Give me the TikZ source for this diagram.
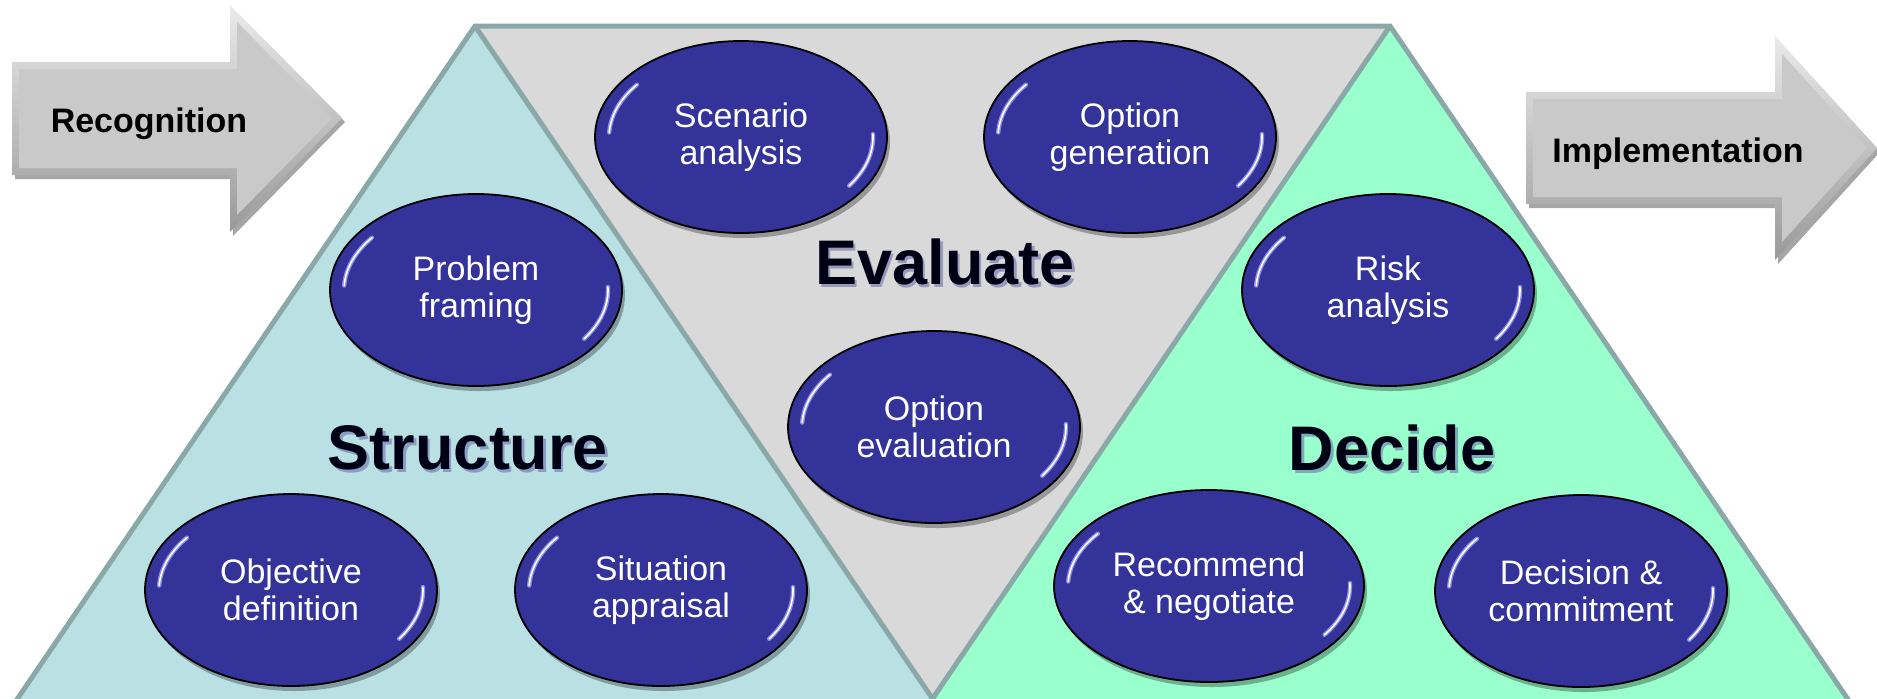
\documentclass[tikz,border=0pt]{standalone}
\usepackage{fontspec}
\setmainfont{Liberation Sans}
\usetikzlibrary{shapes.geometric,shadows}
\definecolor{tealfill}{HTML}{B9E0E3}
\definecolor{grayfill}{HTML}{D9D9D9}
\definecolor{greenfill}{HTML}{99FFCC}
\definecolor{edgecol}{HTML}{8AA8A8}
\definecolor{bubcol}{HTML}{333399}
\definecolor{glowcol}{HTML}{A0A0FF}
\definecolor{arrowin}{HTML}{C9C9C9}
\newcommand\glint[3]{%
  \draw[glowA] (#1.center) ++(183:#2 and #3) arc[start angle=183,end angle=218,x radius=#2,y radius=#3];
  \draw[glowB] (#1.center) ++(183:#2 and #3) arc[start angle=183,end angle=218,x radius=#2,y radius=#3];
  \draw[glowA] (#1.center) ++(-2:#2 and #3) arc[start angle=-2,end angle=35,x radius=#2,y radius=#3];
  \draw[glowB] (#1.center) ++(-2:#2 and #3) arc[start angle=-2,end angle=35,x radius=#2,y radius=#3];
}
\begin{document}
\begin{tikzpicture}[x=0.5pt,y=-0.5pt,
  edge/.style={draw=edgecol,line width=2.5pt,line join=miter},
  bubble/.style={ellipse,draw=black,line width=0.9pt,fill=bubcol,text=white,inner sep=0pt,
    minimum width=146pt,minimum height=96pt,align=center,
    font=\fontsize{17}{18.5}\selectfont,
    drop shadow={shadow xshift=1.5pt,shadow yshift=-2.5pt,opacity=0.3,fill=black}},
  glowA/.style={draw=glowcol,line width=2.2pt,line cap=round,opacity=0.8},
  glowB/.style={draw=white,line width=0.8pt,line cap=round},
  biglabel/.style={font=\fontsize{31.5}{34}\selectfont\bfseries,text=black!92!blue,inner sep=0pt},
  bigshadow/.style={font=\fontsize{31.5}{34}\selectfont\bfseries,text=black!55!blue!60!white,opacity=0.55,inner sep=0pt},
  arrowouter/.style={top color=white!92!black,bottom color=black!40,
    drop shadow={shadow xshift=1.5pt,shadow yshift=-2pt,opacity=0.35,fill=black}},
  arrowinner/.style={fill=arrowin},
  arrowtext/.style={font=\fontsize{17}{20}\selectfont\bfseries,text=black,inner sep=0pt,anchor=base}
]
\useasboundingbox (0,0) rectangle (1877,698);
\begin{scope}
\clip (0,0) rectangle (1877,698);
% triangles
\fill[tealfill] (475,26) -- (3,720) -- (947,720) -- cycle;
\fill[greenfill] (1390,26) -- (918,720) -- (1862,720) -- cycle;
\fill[grayfill] (475,26) -- (1390,26) -- (932.5,698.8) -- cycle;
\draw[edge] (3,720) -- (475,26) -- (1390,26) -- (1862,720);
\draw[edge] (475,26) -- (947,720);
\draw[edge] (1390,26) -- (918,720);

% arrows
\path[arrowouter] (12,62) -- (230,62) -- (230,5) -- (342,118) -- (230,232) -- (230,175) -- (12,175) -- cycle;
\path[arrowinner] (19,69) -- (237,69) -- (237,22) -- (332,118.5) -- (237,215) -- (237,168) -- (19,168) -- cycle;
\node[arrowtext] (recog) at (149,132) {Recognition};

\path[arrowouter] (1526,92) -- (1775,92) -- (1775,36) -- (1877,148) -- (1775,260) -- (1775,204) -- (1526,204) -- cycle;
\path[arrowinner] (1533,99) -- (1782,99) -- (1782,54) -- (1867,148) -- (1782,242) -- (1782,197) -- (1533,197) -- cycle;
\node[arrowtext] (impl) at (1678,162) {Implementation};

% big labels
\node[bigshadow] at (470.5,451) {Structure};
\node[biglabel] (structure) at (468,448) {Structure};
\node[bigshadow] at (947.5,265) {Evaluate};
\node[biglabel] (evaluate) at (945,262) {Evaluate};
\node[bigshadow] at (1394.5,451) {Decide};
\node[biglabel] (decide) at (1392,448) {Decide};

% bubbles
\node[bubble] (scen) at (741,137) {Scenario\\analysis};
\node[bubble] (optgen) at (1130,137) {Option\\generation};
\node[bubble] (prob) at (476,290) {Problem\\framing};
\node[bubble] (opteval) at (934,427) {Option\\evaluation};
\node[bubble] (risk) at (1388,290) {Risk\\analysis};
\node[bubble] (obj) at (291,590) {Objective\\definition};
\node[bubble] (sit) at (661,590) {Situation\\appraisal};
\node[bubble,minimum width=155pt] (rec) at (1209,586) {Recommend\\\& negotiate};
\node[bubble] (dec) at (1581,591) {Decision \&\\commitment};
\glint{scen}{132}{85}
\glint{optgen}{132}{85}
\glint{prob}{132}{85}
\glint{opteval}{132}{85}
\glint{risk}{132}{85}
\glint{obj}{132}{85}
\glint{sit}{132}{85}
\glint{rec}{141}{85}
\glint{dec}{132}{85}
\end{scope}
\end{tikzpicture}
\end{document}
